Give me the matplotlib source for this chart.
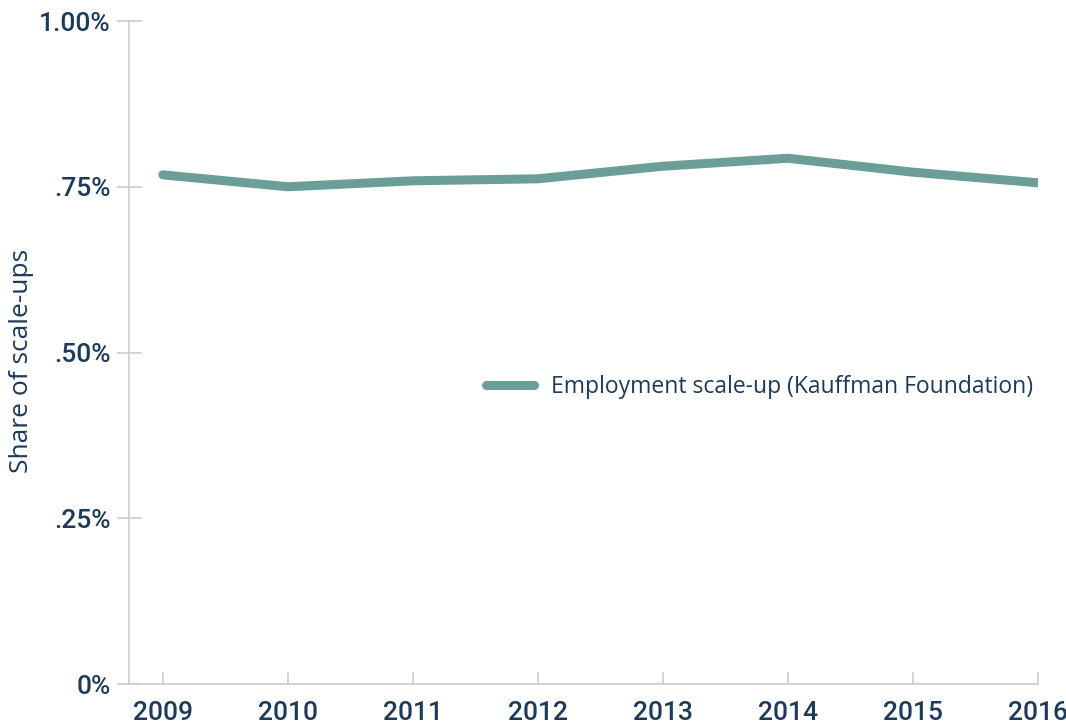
import matplotlib
matplotlib.use("Agg")
import matplotlib.pyplot as plt

years = [2009, 2010, 2011, 2012, 2013, 2014, 2015, 2016]
share = [0.768, 0.750, 0.759, 0.762, 0.781, 0.793, 0.772, 0.756]
y_ticks = [0, 0.25, 0.50, 0.75, 1.00]
y_labels = ["0%", ".25%", ".50%", ".75%", "1.00%"]

navy = "#1b3a5c"
teal = "#6a9e97"
grey = "#cccccc"

fig = plt.figure(figsize=(10.66, 7.27), dpi=100)
ax = fig.add_axes([0.121, 0.0591, 0.8527, 0.912])

ax.plot(years, share, color=teal, lw=6.5, solid_capstyle="round",
        solid_joinstyle="round", label="Employment scale-up (Kauffman Foundation)")

ax.set_xlim(2008.73, 2016)
ax.set_ylim(0, 1.0)
ax.set_xticks(years)
ax.set_yticks(y_ticks)
ax.set_yticklabels(y_labels)

for s in ["top", "right"]:
    ax.spines[s].set_visible(False)
for s in ["left", "bottom"]:
    ax.spines[s].set_color(grey)
    ax.spines[s].set_linewidth(1.2)

ax.tick_params(axis="x", direction="in", length=9, width=1.2, color=grey,
               pad=12, labelsize=19, labelcolor=navy)
ax.tick_params(axis="y", direction="inout", length=18, width=1.2, color=grey,
               pad=4, labelsize=19, labelcolor=navy)
for lab in ax.get_xticklabels() + ax.get_yticklabels():
    lab.set_fontfamily("Roboto")
    lab.set_fontweight("medium")

ax.set_ylabel("Share of scale-ups", fontsize=19, color=navy,
              fontfamily="Open Sans")
ax.yaxis.set_label_coords(-0.105, 0.487)

leg = ax.legend(loc="center left", bbox_to_anchor=(0.3855, 0.448), frameon=False,
                handlelength=2.1, handletextpad=0.72, borderaxespad=0,
                borderpad=0.3, prop={"family": "Open Sans", "size": 16.5})
for t in leg.get_texts():
    t.set_color(navy)

fig.savefig("out.png", dpi=100)
